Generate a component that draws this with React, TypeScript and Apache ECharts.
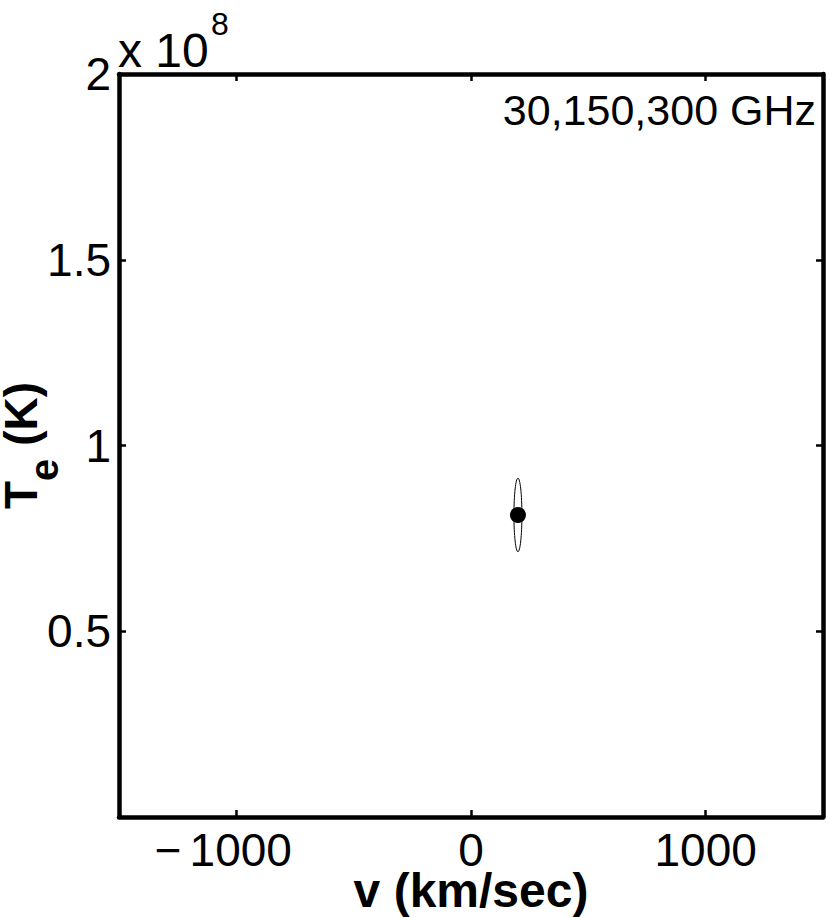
import React, { useEffect, useRef } from 'react';
import * as echarts from 'echarts';

// ---- data ----
const xTickValues = [-1000, 0, 1000];
const yTickValues = [0.5e8, 1e8, 1.5e8, 2e8];
const velocity = [200];
const temperature = [8.13e7];
const velocityErr = [17];
const temperatureErr = [9.9e6];
const annotation = '30,150,300 GHz';
const xName = 'v (km/sec)';
const exponentBase = 'x 10';
const exponentPower = '8';

const FONT = '"Liberation Sans", Arial, Helvetica, sans-serif';

export default function App() {
  const ref = useRef<HTMLDivElement>(null);
  useEffect(() => {
    const chart = echarts.init(ref.current!, null, { renderer: 'svg' });
    const axisLine = { show: true, onZero: false, lineStyle: { color: '#000', width: 4.5 } };
    const tick = (vals: number[]) => ({
      show: true,
      inside: true,
      length: 7,
      customValues: vals,
      lineStyle: { color: '#000', width: 2.5 },
    });
    const labelFont = { fontSize: 46, fontFamily: FONT, color: '#000' };
    const option: any = {
      animation: false,
      backgroundColor: '#fff',
      grid: { left: 119, top: 74, right: 7, bottom: 100, containLabel: false, outerBoundsMode: 'none' },
      xAxis: [
        {
          type: 'value',
          min: -1500,
          max: 1500,
          position: 'bottom',
          axisLine,
          axisTick: tick(xTickValues),
          splitLine: { show: false },
          axisLabel: {
            customValues: xTickValues,
            margin: 14,
            lineHeight: 38,
            ...labelFont,
            formatter: (v: number) => (v < 0 ? `{m|\u2212}{d|${-v}}` : String(v)),
            rich: {
              m: { ...labelFont, lineHeight: 38, padding: [0, 8, 0, 0] },
              d: { ...labelFont, lineHeight: 38, padding: [0, 26, 0, 0] },
            },
          },
          name: xName,
          nameLocation: 'middle',
          nameGap: 53,
          nameMoveOverlap: false,
          nameTextStyle: { fontSize: 48, lineHeight: 40, fontWeight: 'bold', fontFamily: FONT, color: '#000' },
        },
        {
          type: 'value',
          min: -1500,
          max: 1500,
          position: 'top',
          axisLine,
          axisTick: tick(xTickValues),
          splitLine: { show: false },
          axisLabel: { show: false },
        },
      ],
      yAxis: [
        {
          type: 'value',
          min: 0,
          max: 2e8,
          position: 'left',
          axisLine,
          axisTick: tick(yTickValues),
          splitLine: { show: false },
          axisLabel: {
            customValues: yTickValues,
            margin: 8,
            ...labelFont,
            formatter: (v: number) => (v === 0 ? '' : String(v / 1e8)),
          },
          name: '{t|T}{s|e}{t| (K)}',
          nameLocation: 'middle',
          nameRotate: 90,
          nameGap: 65,
          nameMoveOverlap: false,
          nameTextStyle: {
            fontSize: 46,
            fontWeight: 'bold',
            fontFamily: FONT,
            color: '#000',
            rich: {
              t: { fontSize: 46, fontWeight: 'bold', fontFamily: FONT, color: '#000', lineHeight: 46, padding: [0, 0, 20, 0] },
              s: { fontSize: 40, fontWeight: 'bold', fontFamily: FONT, color: '#000', lineHeight: 40, padding: [26, 0, 0, 0] },
            },
          },
        },
        {
          type: 'value',
          min: 0,
          max: 2e8,
          position: 'right',
          axisLine,
          axisTick: tick(yTickValues),
          splitLine: { show: false },
          axisLabel: { show: false },
        },
      ],
      graphic: [
        {
          type: 'text',
          left: 118,
          top: 26,
          style: { text: exponentBase, fontSize: 48, fontFamily: FONT, fill: '#000' },
        },
        {
          type: 'text',
          left: 211,
          top: 8,
          style: { text: exponentPower, fontSize: 32, fontFamily: FONT, fill: '#000' },
        },
        {
          type: 'text',
          right: 14,
          top: 88,
          style: { text: annotation, fontSize: 43, fontFamily: FONT, fill: '#000' },
        },
      ],
      series: [
        {
          type: 'custom',
          xAxisIndex: 0,
          yAxisIndex: 0,
          silent: true,
          data: velocity.map((v, i) => [v, temperature[i], velocityErr[i], temperatureErr[i]]),
          renderItem: (params: any, api: any) => {
            const c = api.coord([api.value(0), api.value(1)]);
            const s = api.size([api.value(2), api.value(3)]);
            return {
              type: 'ellipse',
              shape: { cx: c[0], cy: c[1], rx: s[0], ry: s[1] },
              style: { fill: 'none', stroke: '#000', lineWidth: 1 },
            };
          },
        },
        {
          type: 'scatter',
          xAxisIndex: 0,
          yAxisIndex: 0,
          symbol: 'circle',
          symbolSize: 16,
          itemStyle: { color: '#000', opacity: 1 },
          data: velocity.map((v, i) => [v, temperature[i]]),
        },
      ],
    };
    chart.setOption(option);
    return () => chart.dispose();
  }, []);
  return (
    <div
      ref={ref}
      style={{ position: 'absolute', left: 0, top: 0, width: 830, height: 917, background: '#fff' }}
    />
  );
}
